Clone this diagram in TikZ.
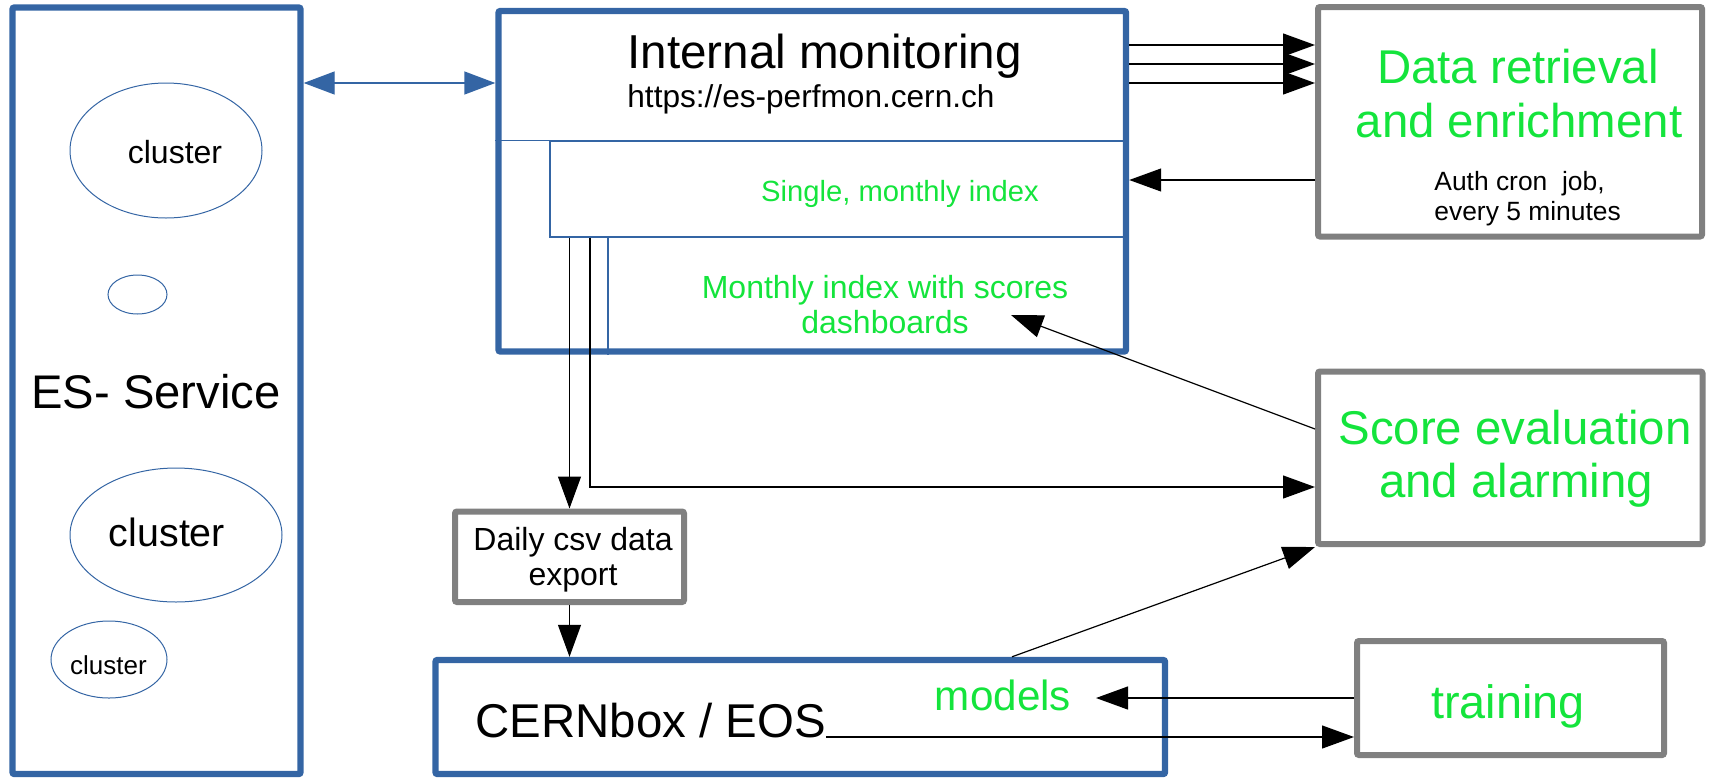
\documentclass[tikz,border=0pt]{standalone}
\usepackage{fontspec}
\setmainfont{Liberation Sans}
\usepackage{tikz}
\usetikzlibrary{arrows.meta, shapes.geometric}

\definecolor{esblue}{HTML}{3465A4}
\definecolor{boxgray}{HTML}{808080}
\definecolor{lgreen}{RGB}{20,228,60}

\newcommand{\txtsize}[1]{\fontsize{#1}{#1}\selectfont}
% style, name, left, top, right, bottom
\newcommand{\panel}[6]{
	\node[#1, minimum width={(#5-#3)*0.5pt}, minimum height={(#6-#4)*0.5pt}]
		(#2) at ({(#3+#5)/2},{(#4+#6)/2}) {};
}
% name, centre x, centre y, radius x, radius y
\newcommand{\clusnode}[5]{
	\node[clus, minimum width=#4pt, minimum height=#5pt] (#1) at (#2,#3) {};
}

\tikzset{
	bluebox/.style={draw=esblue, line width=3.2pt, rectangle, inner sep=0, rounded corners=1pt},
	graybox/.style={draw=boxgray, line width=3pt, rectangle, inner sep=0, rounded corners=1pt},
	part/.style={draw=esblue, line width=0.6pt, rectangle, inner sep=0},
	clus/.style={draw=esblue, line width=0.5pt, ellipse, inner sep=0},
	lbl/.style={inner sep=0, anchor=base},
	green/.style={text=lgreen},
	arr/.style={-{Triangle[length=16pt,width=11.5pt]}, line width=0.6pt},
	barr/.style={{Triangle[length=15.5pt,width=11.5pt]}-{Triangle[length=15.5pt,width=11.5pt]}, color=esblue, line width=0.7pt}
}

\begin{document}
\begin{tikzpicture}[x=0.5pt, y=-0.5pt]
	\useasboundingbox (0,0) rectangle (1712,777);
	% ES service
	\panel{bluebox}{es}{12.5}{7.5}{300.5}{774}
	\node[lbl] (estxt) at (156,408) {\txtsize{23.6}ES- Service};
	\clusnode{c1}{166}{150.5}{96}{67.5}
	\clusnode{c2}{137.5}{294.5}{29.5}{19.5}
	\clusnode{c3}{176}{535}{106}{67}
	\clusnode{c4}{109}{659.5}{58}{38.5}
	\node[lbl] (c1txt) at (175,163) {\txtsize{16}cluster};
	\node[lbl] (c3txt) at (167,546) {\txtsize{19.7}cluster};
	\node[lbl] (c4txt) at (108.5,674) {\txtsize{13}cluster};

	% Internal monitoring
	\panel{bluebox}{im}{498.5}{11}{1126}{351.5}
	\panel{part}{single}{550}{141}{1126}{237}
	\draw[esblue, line width=0.6pt] (im.west |- single.north) -- (single.north west);
	\draw[esblue, line width=0.6pt] (single.south -| 608,0) -- (im.south -| 608,0);
	\node[lbl, anchor=base west] (imtitle) at (627,68) {\txtsize{23.8}Internal monitoring};
	\node[lbl, anchor=base west] (imurl) at (627,107) {\txtsize{15.8}https://es-perfmon.cern.ch};
	\node[lbl, green] (singletxt) at (900,201) {\txtsize{14.6}Single, monthly index};
	\node[lbl, green] (montxt) at (885,298) {\txtsize{16}Monthly index with scores};
	\node[lbl, green] (dash) at (885,333) {\txtsize{16}dashboards};

	% Data retrieval
	\panel{graybox}{dr}{1318}{7}{1702}{236.5}
	\node[lbl, green] (drt1) at (1518,83) {\txtsize{23.7}Data retrieval};
	\node[lbl, green] (drt2) at (1519,137) {\txtsize{23.7}and enrichment};
	\node[lbl, anchor=base west] (cron1) at (1434,190) {\txtsize{13.2}Auth cron\ \ job,};
	\node[lbl, anchor=base west] (cron2) at (1434,220) {\txtsize{13.2}every 5 minutes};

	% Score evaluation
	\panel{graybox}{sc}{1318}{371.5}{1702.5}{544}
	\node[lbl, green] (sct1) at (1515,444) {\txtsize{23.7}Score evaluation};
	\node[lbl, green] (sct2) at (1516,497) {\txtsize{23.7}and alarming};

	% Daily export
	\panel{graybox}{daily}{455}{511.5}{684}{602}
	\node[lbl] (dailyt1) at (573,550) {\txtsize{16}Daily csv data};
	\node[lbl] (dailyt2) at (573,585) {\txtsize{16}export};

	% CERNbox and training
	\panel{bluebox}{cern}{435.5}{660}{1165}{774}
	\node[lbl, anchor=base west] (cerntxt) at (475,737) {\txtsize{23.7}CERNbox / EOS};
	\node[lbl, green] (models) at (1003,710) {\txtsize{21.1}models};
	\panel{graybox}{tr}{1357}{641}{1664}{755}
	\node[lbl, green] (trtxt) at (1508,718) {\txtsize{23.4}training};

	\coordinate (dashtip) at (1011,315);
	\coordinate (modtip) at (1096,698);

	% connectors
	\draw[barr] (es.east |- 0,83) -- (im.west |- 0,83);
	\foreach \y in {45,64,83}
		\draw[arr] (im.east |- 0,\y) -- (dr.west |- 0,\y);
	\draw[arr] (dr.west |- 0,180) -- (im.east |- 0,180);
	\draw[arr] (single.south -| 569.5,0) -- (daily.north -| 569.5,0);
	\draw[arr] (single.south -| 590,0) |- (sc.west |- 0,487);
	\draw[arr] (sc.west |- 0,429) -- (dashtip);
	\draw[arr] (daily.south) -- (cern.north -| daily.south);
	\draw[arr] (cern.north -| 1012,0) -- (sc.south west);
	\draw[arr] (tr.west) -- (modtip);
	\draw[arr] (cerntxt.base east) -- (tr.west |- cerntxt.base east);
\end{tikzpicture}
\end{document}
